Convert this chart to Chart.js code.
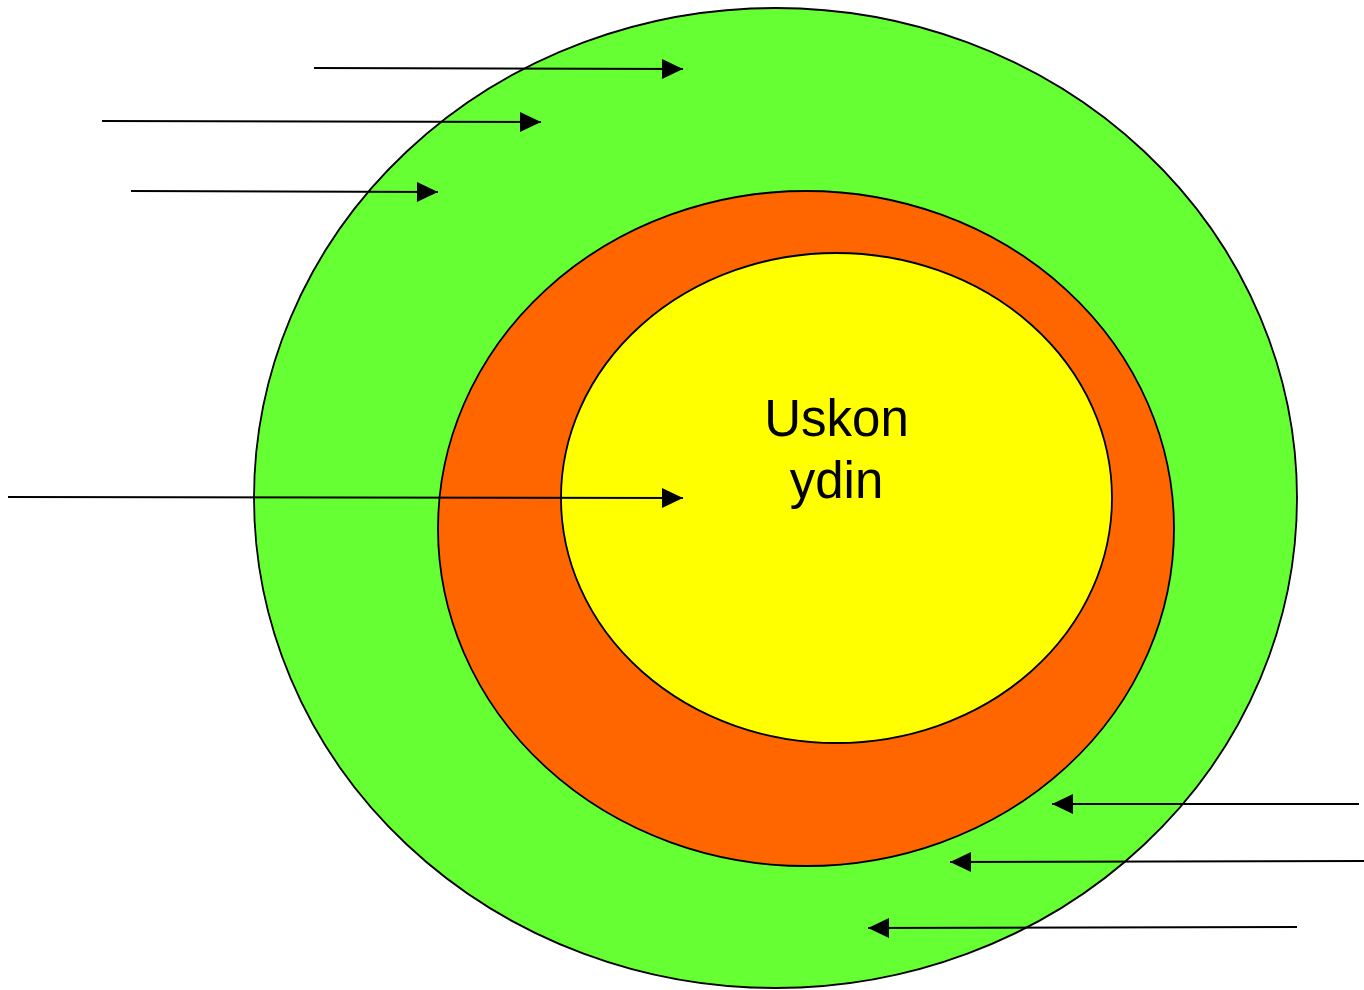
<!DOCTYPE html>
<html>
<head>
<meta charset="utf-8">
<script src="https://cdn.jsdelivr.net/npm/chart.js@4/dist/chart.umd.min.js"></script>
<style>
  html, body { margin: 0; padding: 0; background: #fff; }
  #wrap { width: 1364px; height: 990px; position: relative; }
</style>
</head>
<body>
<div id="wrap"><canvas id="chart"></canvas></div>
<script>
// kerrokset: ulompi vihreä, oranssi, keltainen ydin
const ringNames = ['ulompi', 'keski', 'ydin'];
const ringCenterX = [775.5, 806, 836.5];
const ringCenterY = [498, 528.5, 498];
const ringRadiusX = [521.5, 368, 275.5];
const ringRadiusY = [490, 337.5, 245];
const ringColors = ['#66FF33', '#FF6600', '#FFFF00'];

const labelLines = ['Uskon', 'ydin'];
const labelX = 836.5;
const labelY = [422, 484];

// nuolet: häntä -> kärki
const arrowTailX = [314, 102, 131, 8, 1359, 1364, 1297];
const arrowTailY = [68, 121, 191, 497, 804, 861, 927];
const arrowHeadX = [683, 541, 438, 683, 1052, 950, 868];
const arrowHeadY = [69, 122, 192, 498, 804, 862, 928];

const datasets = arrowTailX.map(function(x, i) {
    return {
        label: 'nuoli ' + (i + 1),
        data: [{ x: x, y: arrowTailY[i] }, { x: arrowHeadX[i], y: arrowHeadY[i] }],
        showLine: true,
        borderColor: '#000',
        borderWidth: 2,
        pointRadius: 0,
        fill: false
    };
});

const ringsPlugin = {
    id: 'rings',
    beforeDatasetsDraw(chart) {
        const ctx = chart.ctx;
        const xs = chart.scales.x, ys = chart.scales.y;
        ctx.save();
        for (let i = 0; i < ringNames.length; i++) {
            const cx = xs.getPixelForValue(ringCenterX[i]);
            const cy = ys.getPixelForValue(ringCenterY[i]);
            const rx = Math.abs(xs.getPixelForValue(ringCenterX[i] + ringRadiusX[i]) - cx);
            const ry = Math.abs(ys.getPixelForValue(ringCenterY[i] + ringRadiusY[i]) - cy);
            ctx.beginPath();
            ctx.ellipse(cx, cy, rx, ry, 0, 0, Math.PI * 2);
            ctx.fillStyle = ringColors[i];
            ctx.fill();
            ctx.lineWidth = 1.8;
            ctx.strokeStyle = '#000';
            ctx.stroke();
        }
        ctx.fillStyle = '#000';
        ctx.font = '51px "Liberation Sans", Arial, sans-serif';
        ctx.textAlign = 'center';
        ctx.textBaseline = 'middle';
        labelLines.forEach(function(t, i) {
            ctx.fillText(t, xs.getPixelForValue(labelX), ys.getPixelForValue(labelY[i]));
        });
        ctx.restore();
    },
    afterDatasetsDraw(chart) {
        const ctx = chart.ctx;
        ctx.save();
        ctx.fillStyle = '#000';
        chart.data.datasets.forEach(function(ds, i) {
            const pts = chart.getDatasetMeta(i).data;
            const a = pts[0], b = pts[1];
            const ang = Math.atan2(b.y - a.y, b.x - a.x);
            const len = 21, half = 10;
            ctx.save();
            ctx.translate(b.x, b.y);
            ctx.rotate(ang);
            ctx.beginPath();
            ctx.moveTo(0, 0);
            ctx.lineTo(-len, -half);
            ctx.lineTo(-len, half);
            ctx.closePath();
            ctx.fill();
            ctx.restore();
        });
        ctx.restore();
    }
};

const chart = new Chart(document.getElementById('chart').getContext('2d'), {
    type: 'scatter',
    data: { datasets: datasets },
    options: {
        responsive: true,
        maintainAspectRatio: false,
        animation: false,
        layout: { padding: 0 },
        plugins: { legend: { display: false }, tooltip: { enabled: false } },
        scales: {
            x: { type: 'linear', min: 0, max: 1364, display: false },
            y: { type: 'linear', min: 0, max: 990, reverse: true, display: false }
        }
    },
    plugins: [ringsPlugin]
});
</script>
</body>
</html>
